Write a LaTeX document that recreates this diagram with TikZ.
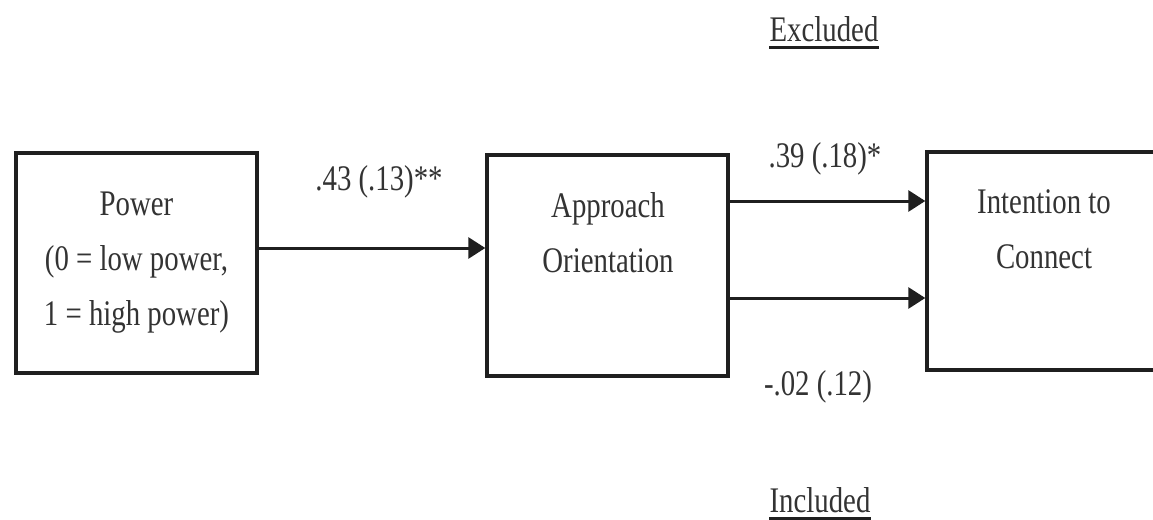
\documentclass[tikz,border=0pt]{standalone}
\usepackage{fontspec}
\setmainfont{Liberation Serif}[FakeStretch=0.8]
\usetikzlibrary{arrows.meta}
\begin{document}
\begin{tikzpicture}[x=1pt,y=-1pt,
  box/.style={draw=black!88, line width=3.4pt, inner sep=0pt, fill=none},
  txt/.style={font=\fontsize{36}{55}\selectfont, text=black!80, inner sep=0pt, align=center},
  lbl/.style={font=\fontsize{36}{55}\selectfont, text=black!80, inner sep=0pt, anchor=base},
  arr/.style={line width=3pt, draw=black!88, -{Triangle[length=17pt,width=21pt]}},
  uline/.style={line width=3pt, draw=black!88}]
\clip (0,0) rectangle (1153,519);
\fill[white] (0,0) rectangle (1153,519);
% boxes
\node[box, minimum width=241pt, minimum height=220pt] (pw) at (136.5,263) {};
\node[box, minimum width=241pt, minimum height=221pt] (ao) at (607.5,265.5) {};
\node[box, minimum width=234pt, minimum height=218pt] (ic) at (1044,261) {};
% box texts (base = last line)
\node[txt, anchor=base] (pwt) at (136.5,325) {Power\\(0 = low power,\\1 = high power)};
\node[txt, anchor=base] (aot) at (608,272) {Approach\\Orientation};
\node[txt, anchor=base] (ict) at (1044,268) {Intention to\\Connect};
% connectors
\coordinate (p1) at ([yshift=15pt]pw.east);
\draw[arr] (p1) -- (p1 -| ao.west);
\coordinate (a1) at ([yshift=64.5pt]ao.east);
\draw[arr] (a1) -- (a1 -| ic.west);
\coordinate (a2) at ([yshift=-32.5pt]ao.east);
\draw[arr] (a2) -- (a2 -| ic.west);
% labels
\node[lbl] (l1) at (379,190) {.43 (.13)**};
\node[lbl] (l2) at (825,167) {.39 (.18)*};
\node[lbl] (l3) at (818,395) {-.02 (.12)};
\node[lbl] (ex) at (824,42) {Excluded};
\node[lbl] (in) at (820,512) {Included};
\draw[uline] ([yshift=-6pt]ex.base west) -- ([yshift=-6pt]ex.base east);
\draw[uline] ([yshift=-6pt]in.base west) -- ([yshift=-6pt]in.base east);
\end{tikzpicture}
\end{document}
